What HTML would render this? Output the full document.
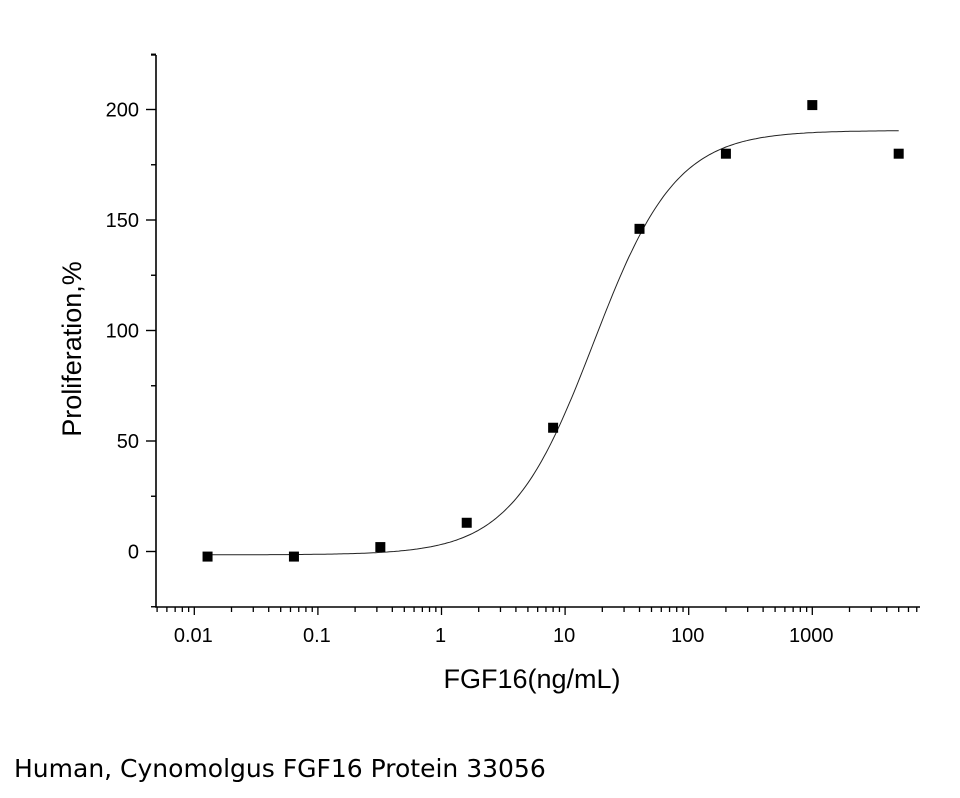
<!DOCTYPE html>
<html><head><meta charset="utf-8"><style>
html,body{margin:0;padding:0;background:#fff;width:960px;height:798px;overflow:hidden}
svg text{font-family:"Liberation Sans",Arial,sans-serif;fill:#000}
.cap{position:absolute;left:14px;top:754px;font-family:"DejaVu Sans","Liberation Sans",sans-serif;font-size:25px;color:#000}
</style></head><body>
<svg id="chart" width="960" height="798" style="position:absolute;left:0;top:0"></svg>
<div class="cap">Human, Cynomolgus FGF16 Protein 33056</div>
<script>
const concentrations=[0.0128,0.064,0.32,1.6,8,40,200,1000,5000];
const proliferation=[-2.3,-2.3,2,13,56,146,180,202,180];
const yTicks=[0,50,100,150,200];
const xTicks=[0.01,0.1,1,10,100,1000];
const xTickLabels=["0.01","0.1","1","10","100","1000"];
const fitBottom=-1.5, fitTop=190.5, fitEC50=17, fitHill=1.3;

const NS="http://www.w3.org/2000/svg";
const svg=document.getElementById('chart');
const L=156,R=920,T=55,B=607;
const x0=441.5,dec=123.6;
function xs(v){return x0+Math.log10(v)*dec;}
function ys(v){return 551.5-v*2.21;}
function mk(tag,attrs){const e=document.createElementNS(NS,tag);for(const k in attrs)e.setAttribute(k,attrs[k]);svg.appendChild(e);return e;}

let e;
e=mk('line',{x1:L,y1:T,x2:L,y2:B,stroke:'#000','stroke-width':1.6});

e=mk('line',{x1:L-1,y1:B,x2:R,y2:B,stroke:'#000','stroke-width':1.6});

mk('line',{x1:L-5,y1:T,x2:L,y2:T,stroke:'#000','stroke-width':1.4});

for(let v=-25;v<=225;v+=25){
  const major=yTicks.includes(v);
  const t=mk('line',{x1:L-(major?10:5),y1:ys(v),x2:L,y2:ys(v),stroke:'#000','stroke-width':1.4});
  
}
yTicks.forEach(v=>{
  const t=mk('text',{x:L-17,y:ys(v)+7,'text-anchor':'end','font-size':20});
  t.textContent=v;
  
});
const lo=Math.pow(10,(L-x0)/dec),hi=Math.pow(10,(R-x0)/dec);
for(let d=-3;d<=3;d++){
  for(let m=1;m<10;m++){
    const v=m*Math.pow(10,d);
    if(v<lo||v>hi)continue;
    const t=mk('line',{x1:xs(v),y1:B,x2:xs(v),y2:B+(m===1?8:5),stroke:'#000','stroke-width':1.3});
    
  }
}
xTicks.forEach((v,i)=>{
  const t=mk('text',{x:xs(v)-1,y:B+35,'text-anchor':'middle','font-size':20});
  t.textContent=xTickLabels[i];
  
});
e=mk('text',{x:532,y:688,'text-anchor':'middle','font-size':27});
e.textContent='FGF16(ng/mL)';

e=mk('text',{x:0,y:0,'text-anchor':'middle','font-size':27,transform:'translate(81,349) rotate(-90)'});
e.textContent='Proliferation,%';


let d='';
const a=Math.log10(concentrations[0]),b=Math.log10(concentrations[concentrations.length-1]);
for(let i=0;i<=300;i++){
  const lx=a+(b-a)*i/300,c=Math.pow(10,lx);
  const y=fitBottom+(fitTop-fitBottom)/(1+Math.pow(fitEC50/c,fitHill));
  d+=(i?'L':'M')+xs(c).toFixed(1)+' '+ys(y).toFixed(1);
}
e=mk('path',{d:d,fill:'none',stroke:'#222','stroke-width':1});


concentrations.forEach((c,i)=>{
  const p=mk('rect',{x:xs(c)-5,y:ys(proliferation[i])-5,width:10,height:10,fill:'#000'});
  
  
});
</script>
</body></html>
